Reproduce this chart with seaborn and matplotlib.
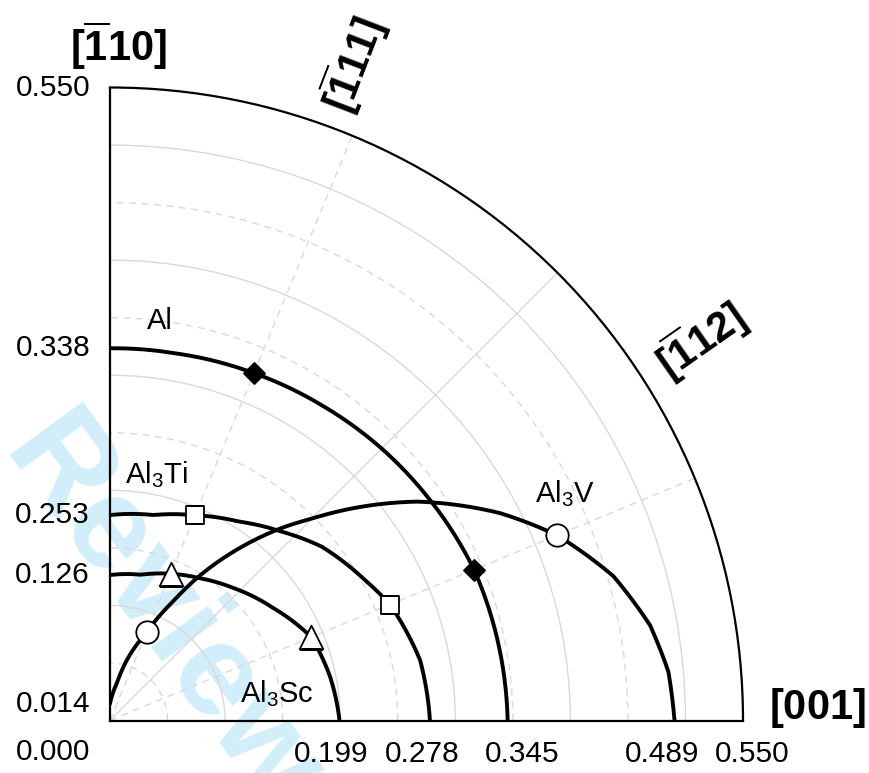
import numpy as np
import matplotlib
matplotlib.use('Agg')
import matplotlib.pyplot as plt
import seaborn as sns
from matplotlib.ticker import FixedLocator

# angle in degrees measured from [001] towards [-110], value r
al_theta = [0, 22.5, 35, 45, 56, 67.5, 80, 90]
al_r = [0.3455, 0.3424, 0.3375, 0.3340, 0.3300, 0.3267, 0.3240, 0.3234]

al3ti_theta = [0, 11, 22.5, 28.8, 39.4, 47.7, 57, 67.5, 78, 90]
al3ti_r = [0.2780, 0.2745, 0.2633, 0.2530, 0.2380, 0.2218, 0.2060, 0.1930, 0.1825, 0.1785]

al3sc_theta = [0, 11.2, 22.5, 34.5, 47.3, 57.6, 67.5, 78, 90]
al3sc_r = [0.1994, 0.1950, 0.1893, 0.1723, 0.1570, 0.1463, 0.1380, 0.1295, 0.1264]

al3v_theta = [0, 5, 10, 16, 22.5, 28, 35.5, 45, 48.3, 58.4, 62.1, 67.5,
              69.4, 74.4, 79.5, 85, 90]
al3v_r = [0.4905, 0.4870, 0.4765, 0.4550, 0.4205, 0.3838, 0.3275, 0.2480,
          0.2240, 0.1467, 0.1170, 0.0830, 0.0747, 0.0546, 0.0329, 0.0220, 0.0144]

marker_angles = [22.5, 67.5]

# labels along [001] edge and [-110] edge
x_tick_pos = [0.192, 0.271, 0.358, 0.480, 0.558]
x_tick_text = ['0.199', '0.278', '0.345', '0.489', '0.550']
y_tick_text = ['0.014', '0.126', '0.253', '0.338', '0.550']

sns.set_theme(style='white')
plt.rcParams['font.family'] = ['Liberation Sans', 'DejaVu Sans']
plt.rcParams['text.color'] = 'black'
plt.rcParams['mathtext.fontset'] = 'custom'
plt.rcParams['mathtext.rm'] = 'Liberation Sans'
plt.rcParams['mathtext.it'] = 'Liberation Sans:italic'
plt.rcParams['mathtext.bf'] = 'Liberation Sans:bold'

fig = plt.figure(figsize=(8.69, 7.73), dpi=100)
fig.patch.set_facecolor('white')
ax = fig.add_axes([110 / 869, 52.5 / 773, 633 / 869, 633 / 773], projection='polar')
ax.patch.set_alpha(0)
ax.set_thetamin(0)
ax.set_thetamax(90)
ax.set_rlim(0, 0.55)

# grid: solid every 0.1 / 45 deg, dashed in between
ax.set_xticks(np.radians([45]))
ax.xaxis.set_minor_locator(FixedLocator(np.radians([22.5, 67.5])))
ax.set_yticks([0.1, 0.2, 0.3, 0.4, 0.5])
ax.yaxis.set_minor_locator(FixedLocator([0.05, 0.15, 0.25, 0.35, 0.45]))
ax.set_xticklabels([])
ax.set_yticklabels([])
ax.tick_params(which='both', length=0)
ax.grid(which='major', color='#d9d9d9', lw=1.0, ls='-')
ax.grid(which='minor', color='#d9d9d9', lw=1.0, ls=(0, (5, 4)))

for name in ['polar', 'start', 'end']:
    ax.spines[name].set_color('black')
    ax.spines[name].set_linewidth(1.6)

# watermark
fig.text(160 / 869, 1 - 615 / 773, 'Review', rotation=-54, ha='center', va='center',
         fontsize=94, fontweight='bold', color='#d2eefb', zorder=-1)

curves = [
    (al_theta, al_r, 'D', 'black', 115),
    (al3ti_theta, al3ti_r, 's', 'white', 170),
    (al3sc_theta, al3sc_r, '^', 'white', 290),
    (al3v_theta, al3v_r, 'o', 'white', 260),
]
for theta, r, mk, fc, size in curves:
    sns.lineplot(x=np.radians(theta), y=r, ax=ax, color='black', lw=2.8,
                 sort=False, estimator=None, legend=False)
    # let the polar transform draw segments as arcs between the read points
    ax.lines[-1].get_path()._interpolation_steps = 60
    idx = [theta.index(a) for a in marker_angles]
    sns.scatterplot(x=np.radians([theta[i] for i in idx]), y=[r[i] for i in idx],
                    ax=ax, marker=mk, s=size, color=fc, edgecolor='black',
                    linewidth=1.3, zorder=5, legend=False)

ax.set_xlabel('')
ax.set_ylabel('')

# compound labels
ax.text(np.radians(84.6), 0.3417, 'Al', ha='left', va='baseline', fontsize=21)
ax.text(np.radians(86.3), 0.2068, 'Al$_3$Ti', ha='left', va='baseline', fontsize=21)
ax.text(np.radians(27.2), 0.4155, 'Al$_3$V', ha='left', va='baseline', fontsize=21)
ax.text(np.radians(8.2), 0.1143, 'Al$_3$Sc', ha='left', va='baseline', fontsize=21)

# direction labels
ax.text(np.radians(89.3), 0.586, r'$\mathbf{[\overline{1}10]}$', ha='center', va='center', fontsize=30)
ax.text(np.radians(1.05), 0.615, r'$\mathbf{[001]}$', ha='center', va='center', fontsize=30)
ax.text(np.radians(69.7), 0.608, r'$\mathbf{[\overline{1}11]}$', ha='center', va='center',
        fontsize=30, rotation=69, rotation_mode='anchor')
ax.text(np.radians(32.8), 0.611, r'$\mathbf{[\overline{1}12]}$', ha='center', va='center',
        fontsize=30, rotation=35, rotation_mode='anchor')

# tick labels
for pos, txt in zip(x_tick_pos, x_tick_text):
    ax.annotate(txt, xy=(0, pos), xytext=(0, -34), textcoords='offset pixels',
                ha='center', va='center', fontsize=21.5, annotation_clip=False)
ax.annotate('0.000', xy=(0, 0), xytext=(-57, -32), textcoords='offset pixels',
            ha='center', va='center', fontsize=21.5, annotation_clip=False)
y_tick_pos = [al3v_r[-1], al3sc_r[-1], al3ti_r[-1], al_r[-1], 0.55]
for pos, txt in zip(y_tick_pos, y_tick_text):
    ax.annotate(txt, xy=(np.pi / 2, pos), xytext=(-20, 0), textcoords='offset pixels',
                ha='right', va='center', fontsize=21.5, annotation_clip=False)

fig.savefig('out.png', dpi=100)
